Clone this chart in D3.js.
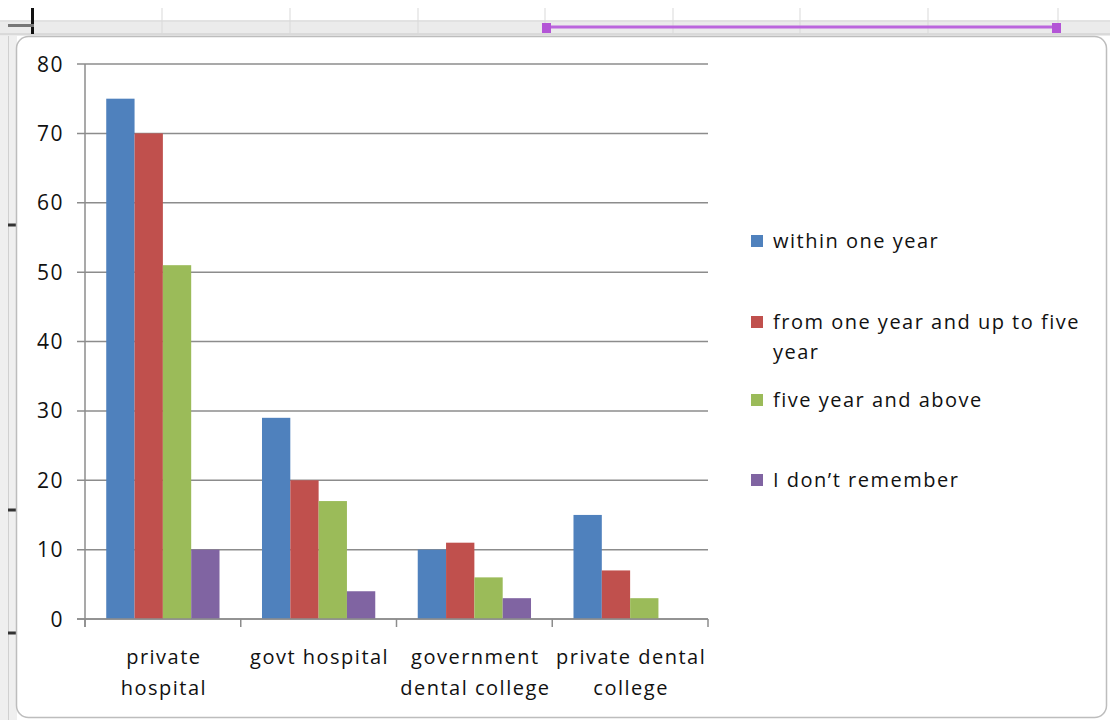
<!DOCTYPE html>
<html><head><meta charset="utf-8">
<script src="https://cdn.jsdelivr.net/npm/d3@7"></script>
<style>body{margin:0;background:#fff}svg{display:block}</style>
</head><body>
<svg id="c" width="1110" height="720"></svg>
<script>
const categories = [["private","hospital"],["govt hospital"],["government","dental college"],["private dental","college"]];
const seriesNames = ["within one year","from one year and up to five year","five year and above","I don\u2019t remember"];
const legendLines = [["within one year"],["from one year and up to five","year"],["five year and above"],["I don\u2019t remember"]];
const withinOneYear = [75,29,10,15];
const oneToFiveYear = [70,20,11,7];
const fiveYearAbove = [51,17,6,3];
const dontRemember = [10,4,3,0];
const yTicks = [0,10,20,30,40,50,60,70,80];
const colors = ["#4f81bd","#c0504d","#9bbb59","#8064a2"];
const series = [withinOneYear, oneToFiveYear, fiveYearAbove, dontRemember];

const svg = d3.select("#c");
const font = "'Open Sans', 'Noto Sans', sans-serif";
const fs = 20, ls = 1.5;

// spreadsheet chrome
svg.append("rect").attr("x",0).attr("y",0).attr("width",1110).attr("height",720).attr("fill","#ffffff");
svg.append("rect").attr("x",0).attr("y",20).attr("width",1110).attr("height",16).attr("fill","#ebebeb");
svg.append("line").attr("x1",0).attr("x2",1110).attr("y1",21).attr("y2",21).attr("stroke","#d8d8d8");
svg.append("line").attr("x1",0).attr("x2",1110).attr("y1",34).attr("y2",34).attr("stroke","#c8c8c8");
[162,290,418,545,673,800,928,1058].forEach(x=>{
  svg.append("line").attr("x1",x).attr("x2",x).attr("y1",8).attr("y2",34).attr("stroke","#d9d9d9");
});
svg.append("rect").attr("x",0).attr("y",36).attr("width",17).attr("height",684).attr("fill","#efefef");
svg.append("line").attr("x1",8.5).attr("x2",8.5).attr("y1",36).attr("y2",720).attr("stroke","#d0d0d0");
[225,510,633].forEach(y=>svg.append("rect").attr("x",8).attr("y",y-1.5).attr("width",9).attr("height",3).attr("fill","#333"));
svg.append("rect").attr("x",31).attr("y",8).attr("width",3).attr("height",26).attr("fill","#111");
svg.append("rect").attr("x",8).attr("y",24).attr("width",26).attr("height",3).attr("fill","#777");
svg.append("line").attr("x1",549).attr("x2",1053).attr("y1",27).attr("y2",27).attr("stroke","#bb66dd").attr("stroke-width",3);
svg.append("rect").attr("x",542).attr("y",23).attr("width",9).attr("height",10).attr("fill","#b355d6");
svg.append("rect").attr("x",1052).attr("y",23).attr("width",9).attr("height",10).attr("fill","#b355d6");

// chart area
svg.append("rect").attr("x",16.5).attr("y",36.5).attr("width",1090).attr("height",681).attr("rx",12)
  .attr("fill","#ffffff").attr("stroke","#bdbdbd").attr("stroke-width",1.5);

const x0 = 85, x1 = 708, yTop = 64, yBot = 619;
const y = d3.scaleLinear().domain([0,80]).range([yBot,yTop]);
const xc = d3.scaleBand().domain(d3.range(categories.length)).range([x0,x1]).paddingInner(0).paddingOuter(0);
const bw = xc.bandwidth()/5.5;
const xs = d3.scaleBand().domain(d3.range(4)).range([0,bw*4]);

// gridlines
const g = svg.append("g");
g.selectAll(".grid").data(yTicks).join("line")
  .attr("x1",x0-8).attr("x2",x1).attr("y1",d=>y(d)).attr("y2",d=>y(d))
  .attr("stroke","#8c8c8c").attr("stroke-width",1.5);
g.selectAll(".yl").data(yTicks).join("text")
  .attr("x",64).attr("y",d=>y(d)).attr("dy","0.36em").attr("text-anchor","end")
  .attr("font-family",font).attr("font-size",21).attr("letter-spacing",ls).attr("fill","#111").text(d=>d);

// bars
series.forEach((vals,si)=>{
  svg.append("g").selectAll("rect").data(vals).join("rect")
    .attr("x",(d,i)=>xc(i)+bw*0.75+xs(si))
    .attr("width",xs.bandwidth())
    .attr("y",d=>y(d)).attr("height",d=>y(0)-y(d))
    .attr("fill",colors[si]);
});

// axes
svg.append("line").attr("x1",x0).attr("x2",x0).attr("y1",yTop).attr("y2",yBot+8).attr("stroke","#8c8c8c").attr("stroke-width",1.5);
svg.append("line").attr("x1",x0-8).attr("x2",x1).attr("y1",yBot).attr("y2",yBot).attr("stroke","#8c8c8c").attr("stroke-width",1.5);
d3.range(categories.length+1).forEach(i=>{
  const xx = i<categories.length ? xc(i) : x1;
  svg.append("line").attr("x1",xx).attr("x2",xx).attr("y1",yBot).attr("y2",yBot+8).attr("stroke","#8c8c8c").attr("stroke-width",1.5);
});
categories.forEach((lines,i)=>{
  const t = svg.append("text").attr("text-anchor","middle").attr("font-family",font).attr("font-size",fs).attr("letter-spacing",ls).attr("fill","#111");
  lines.forEach((l,j)=>t.append("tspan").attr("x",xc(i)+xc.bandwidth()/2+1).attr("y",664+j*31).text(l));
});

// legend
const legY = [241,322,400,480];
legendLines.forEach((lines,i)=>{
  svg.append("rect").attr("x",751).attr("y",legY[i]-6).attr("width",12).attr("height",12).attr("fill",colors[i]);
  const t = svg.append("text").attr("font-family",font).attr("font-size",fs).attr("letter-spacing",ls).attr("fill","#111");
  lines.forEach((l,j)=>t.append("tspan").attr("x",773).attr("y",legY[i]+j*30).attr("dy","0.36em").text(l));
});
</script>
</body></html>
